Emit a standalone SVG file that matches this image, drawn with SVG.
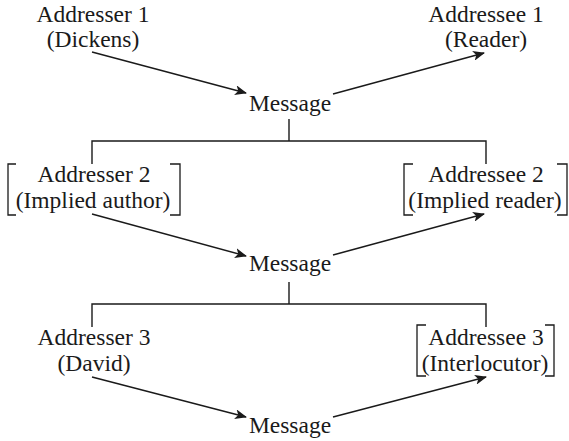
<svg xmlns="http://www.w3.org/2000/svg" width="569" height="441" viewBox="0 0 569 441">
<defs>
<style>
text{font-family:"Liberation Serif","Times New Roman",serif;font-size:23.5px;fill:#1a1a1a;text-anchor:middle}
.ln{fill:none;stroke:#1a1a1a;stroke-width:1.4}
.br{fill:none;stroke:#1a1a1a;stroke-width:1.3}
.ar{fill:none;stroke:#1a1a1a;stroke-width:1.4;marker-end:url(#ah)}
</style>
<marker id="ah" viewBox="0 0 12 10" refX="11" refY="5" markerWidth="12" markerHeight="10" markerUnits="userSpaceOnUse" orient="auto">
<path d="M0,0 L12,5 L0,10 L3,5 Z" fill="#1a1a1a"/>
</marker>
</defs>
<rect width="569" height="441" fill="#fff"/>
<g id="addresser1"><text x="93" y="22">Addresser 1</text><text x="93" y="47">(Dickens)</text></g>
<g id="addressee1"><text x="486" y="22">Addressee 1</text><text x="486" y="47">(Reader)</text></g>
<g id="message1"><text x="290" y="111">Message</text></g>
<g id="addresser2"><text x="94" y="182">Addresser 2</text><text x="93" y="208">(Implied author)</text>
<path class="br" d="M16,164 H8 V215 H16 M170,164 H180 V215 H170"/></g>
<g id="addressee2"><text x="486" y="182">Addressee 2</text><text x="485" y="208">(Implied reader)</text>
<path class="br" d="M413,164 H404 V215 H413 M557,164 H567 V215 H557"/></g>
<g id="message2"><text x="290" y="271">Message</text></g>
<g id="addresser3"><text x="94" y="345">Addresser 3</text><text x="94" y="371">(David)</text></g>
<g id="addressee3"><text x="486" y="345">Addressee 3</text><text x="485" y="371">(Interlocutor)</text>
<path class="br" d="M426,325 H417 V376 H426 M545,325 H554 V376 H545"/></g>
<g id="message3"><text x="290" y="433">Message</text></g>
<g id="connectors">
<path class="ar" d="M92,52 L246,93"/>
<path class="ar" d="M333,94 L484,53"/>
<path class="ln" d="M289,119 V141 M92,164 V141 H486 V164"/>
<path class="ar" d="M92,214 L246,256"/>
<path class="ar" d="M333,255 L484,214"/>
<path class="ln" d="M289,282 V304 M92,327 V304 H486 V327"/>
<path class="ar" d="M92,377 L246,417"/>
<path class="ar" d="M333,417 L486,377"/>
</g>
</svg>
